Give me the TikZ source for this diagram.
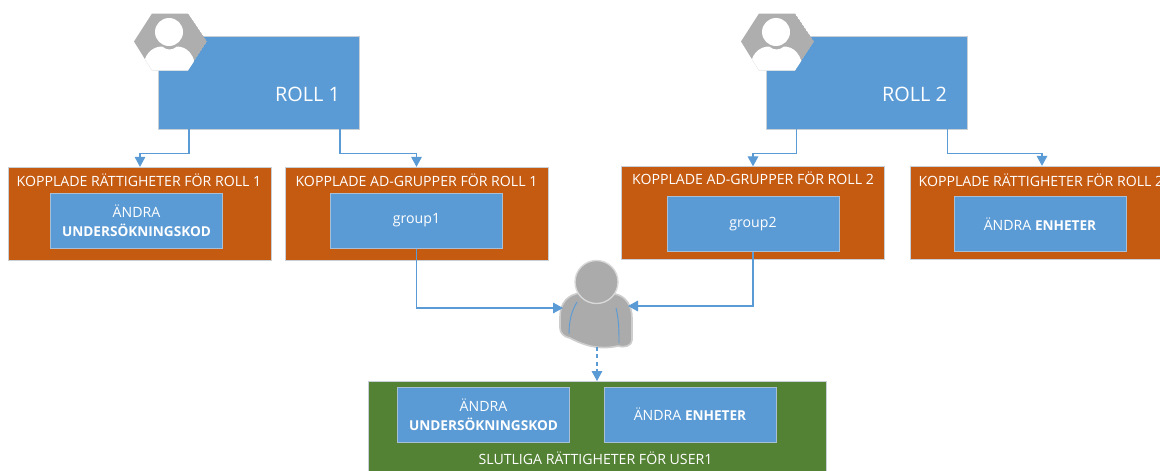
\documentclass[tikz,border=0pt]{standalone}
\usepackage{fontspec}
\setmainfont{Open Sans}
\usetikzlibrary{arrows.meta}
\definecolor{boxblue}{HTML}{5B9BD5}
\definecolor{boxorange}{HTML}{C55A11}
\definecolor{boxgreen}{HTML}{548235}
\definecolor{boxedge}{HTML}{C9CFD6}
\definecolor{usergray}{HTML}{ABABAB}
\definecolor{iconfill}{HTML}{AEAEAE}
\newcommand{\strongtext}[1]{{\fontsize{10.2pt}{14.2pt}\selectfont\bfseries #1}}
\tikzset{
  rollbox/.style={draw=boxedge,line width=.5pt,fill=boxblue,minimum width=150.5pt,minimum height=69.5pt,inner sep=0},
  groupbox/.style={draw=boxedge,line width=.5pt,fill=boxorange,minimum width=197pt,minimum height=69.5pt,inner sep=0},
  itembox/.style={draw=boxedge!70!boxblue,line width=.5pt,fill=boxblue,minimum width=129pt,minimum height=41.5pt,inner sep=0,text=white,align=center,font=\fontsize{10.6pt}{14.2pt}\selectfont},
  titletext/.style={text=white,inner sep=0,font=\fontsize{10.6pt}{12pt}\selectfont},
  rolltext/.style={text=white,inner sep=0,font=\fontsize{14.9pt}{17pt}\selectfont},
  flow/.style={draw=boxblue,line width=.8pt,-{Triangle[length=7.5pt,width=8pt]}},
  flowdash/.style={flow,dash pattern=on 3pt off 2.5pt}
}
\newcommand{\roleicon}[2]{%
  \begin{scope}[shift={(#1,#2)}]
    \begin{scope}
      \clip (-35,0) -- (-17,-28) -- (19,-28) -- (38,0) -- (19,29) -- (-17,29) -- cycle;
      \fill[iconfill] (-35,0) -- (-17,-28) -- (19,-28) -- (38,0) -- (19,29) -- (-17,29) -- cycle;
      \fill[white] (0,-9.5) circle (14);
      \fill[white] (-26,32) .. controls (-27,12) and (-16,5) .. (-7,5) .. controls (-2,9) and (3,9) .. (8,5) .. controls (17,5) and (27,12) .. (27,32) -- cycle;
    \end{scope}
  \end{scope}}
\begin{document}
\begin{tikzpicture}[x=.75pt,y=-.75pt]
  \clip (0,0) rectangle (1160,471);
  \fill[white] (0,0) rectangle (1160,471);
  % roles
  \node[rollbox] (roll1) at (259,82.5) {};
  \node[rolltext] (roll1text) at (307.5,94) {ROLL 1};
  \node[rollbox] (roll2) at (866.5,82.5) {};
  \node[rolltext] (roll2text) at (914.5,94) {ROLL 2};
  \roleicon{169}{41.5}
  \roleicon{776}{41.5}
  % boxes under the roles
  \node[groupbox] (rights1) at (140,213.5) {};
  \node[titletext] (rights1title) at (139,180) {KOPPLADE RÄTTIGHETER FÖR ROLL 1};
  \node[itembox] (item1) at (136.5,220.5) {ÄNDRA\\\strongtext{UNDERSÖKNINGSKOD}};
  \node[groupbox] (ads1) at (416.5,213.5) {};
  \node[titletext] (ads1title) at (416.5,180) {KOPPLADE AD-GRUPPER FÖR ROLL 1};
  \node[itembox] (group1) at (416.5,220.5) {group1};
  \node[groupbox] (ads2) at (753,213) {};
  \node[titletext] (ads2title) at (753,178) {KOPPLADE AD-GRUPPER FÖR ROLL 2};
  \node[itembox] (group2) at (753,224) {group2};
  \node[groupbox] (rights2) at (1042,212.5) {};
  \node[titletext] (rights2title) at (1041,180) {KOPPLADE RÄTTIGHETER FÖR ROLL 2};
  \node[itembox] (item2) at (1040,224) {ÄNDRA \strongtext{ENHETER}};
  % final rights
  \node[draw=boxedge,line width=.5pt,fill=boxgreen,minimum width=343.5pt,minimum height=82pt,inner sep=0] (final) at (597,436) {};
  \node[itembox] (final1) at (483.5,414.5) {ÄNDRA\\\strongtext{UNDERSÖKNINGSKOD}};
  \node[itembox] (final2) at (690,414.5) {ÄNDRA \strongtext{ENHETER}};
  \node[titletext] (finaltitle) at (595.5,458) {SLUTLIGA RÄTTIGHETER FÖR USER1};
  % user
  \fill[usergray,draw=usergray!60!white,line width=1.2pt,line join=round] (560,317)
    .. controls (560,303) and (568,294) .. (581,293)
    .. controls (590,300) and (606,300) .. (615,294)
    .. controls (626,296) and (632,306) .. (632,318)
    -- (632,340) .. controls (632,346) and (624,348) .. (618,346)
    .. controls (600,350) and (585,346) .. (570,338)
    .. controls (564,337) and (560,333) .. (560,328) -- cycle;
  \fill[usergray,draw=usergray!45!white,line width=1pt] (596.5,282) circle (21.5);
  \draw[boxblue,line width=.7pt] (577,302) .. controls (571,312) and (569,322) .. (569,334);
  \draw[boxblue,line width=.7pt] (616,308) .. controls (619,320) and (619,332) .. (619,343);
  \coordinate (userwest) at (563,308);
  \coordinate (usereast) at (628,306);
  \coordinate (userfoot) at (597,347);
  % connectors
  \draw[flow] ([xshift=-52.5pt]roll1.south) -- ++(0,24) -| (rights1.north);
  \draw[flow] ([xshift=60.75pt]roll1.south) -- ++(0,24) -| (ads1.north);
  \draw[flow] ([xshift=-52.5pt]roll2.south) -- ++(0,24) -| (ads2.north);
  \draw[flow] ([xshift=60.75pt]roll2.south) -- ++(0,24) -| (rights2.north);
  \draw[flow] (group1.south) |- (userwest);
  \draw[flow] (group2.south) |- (usereast);
  \draw[flowdash] (userfoot) -- (userfoot |- final.north);
\end{tikzpicture}
\end{document}
